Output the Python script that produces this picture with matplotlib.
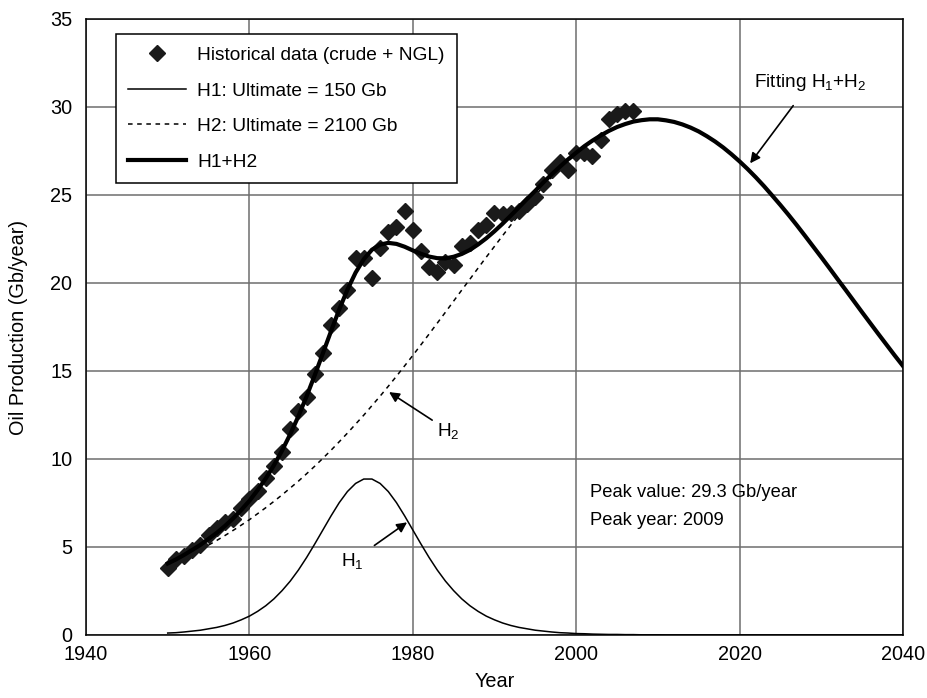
import numpy as np
import matplotlib
matplotlib.use("Agg")
import matplotlib.pyplot as plt

plt.rcParams['font.family'] = ['Liberation Sans', 'DejaVu Sans']
plt.rcParams['mathtext.fontset'] = 'custom'
plt.rcParams['mathtext.rm'] = 'Liberation Sans'
plt.rcParams['mathtext.it'] = 'Liberation Sans'
plt.rcParams['mathtext.default'] = 'rm'

# Historical data (crude + NGL), Gb/year
hist_years = list(range(1950, 2008))
hist_prod = [3.8, 4.3, 4.5, 4.8, 5.1, 5.7, 6.1, 6.4, 6.6, 7.2,
             7.7, 8.2, 8.9, 9.6, 10.4, 11.7, 12.7, 13.5, 14.8, 16.0,
             17.6, 18.6, 19.6, 21.4, 21.4, 20.3, 22.0, 22.9, 23.2, 24.1,
             23.0, 21.8, 20.9, 20.6, 21.2, 21.0, 22.1, 22.3, 23.0, 23.3,
             24.0, 23.9, 24.0, 24.1, 24.5, 24.9, 25.6, 26.4, 26.9, 26.4,
             27.4, 27.4, 27.2, 28.1, 29.3, 29.6, 29.8, 29.8]

# Fitted Hubbert curves (one value per year, 1950-2040)
fit_years = list(range(1950, 2041))
h1_vals = [0.11, 0.13, 0.17, 0.22, 0.27, 0.35, 0.43, 0.54, 0.68, 0.86,
           1.07, 1.34, 1.66, 2.05, 2.52, 3.06, 3.69, 4.40, 5.17, 5.97,
           6.77, 7.52, 8.15, 8.61, 8.86, 8.86, 8.61, 8.15, 7.52, 6.77,
           5.97, 5.17, 4.40, 3.69, 3.06, 2.52, 2.05, 1.66, 1.34, 1.07,
           0.86, 0.68, 0.54, 0.43, 0.35, 0.27, 0.22, 0.17, 0.13, 0.11,
           0.08, 0.07, 0.05, 0.04, 0.03, 0.03, 0.02, 0.02, 0.01, 0.01,
           0.01, 0.0, 0.0, 0.0, 0.0, 0.0, 0.0, 0.0, 0.0, 0.0,
           0.0, 0.0, 0.0, 0.0, 0.0, 0.0, 0.0, 0.0, 0.0, 0.0,
           0.0, 0.0, 0.0, 0.0, 0.0, 0.0, 0.0, 0.0, 0.0, 0.0,
           0.0]
h2_vals = [3.95, 4.16, 4.38, 4.61, 4.85, 5.11, 5.37, 5.65, 5.94, 6.24,
           6.55, 6.89, 7.23, 7.59, 7.96, 8.35, 8.74, 9.16, 9.59, 10.04,
           10.50, 10.98, 11.47, 11.98, 12.49, 13.03, 13.57, 14.13, 14.70, 15.29,
           15.88, 16.49, 17.10, 17.72, 18.34, 18.97, 19.60, 20.22, 20.85, 21.47,
           22.08, 22.69, 23.29, 23.87, 24.43, 24.97, 25.50, 26.00, 26.47, 26.91,
           27.32, 27.70, 28.04, 28.34, 28.61, 28.83, 29.01, 29.15, 29.24, 29.29,
           29.29, 29.24, 29.15, 29.01, 28.83, 28.61, 28.34, 28.04, 27.70, 27.32,
           26.91, 26.47, 26.00, 25.50, 24.97, 24.43, 23.87, 23.29, 22.69, 22.08,
           21.47, 20.85, 20.22, 19.60, 18.97, 18.34, 17.72, 17.10, 16.49, 15.88,
           15.29]

x_ticks = [1940, 1960, 1980, 2000, 2020, 2040]
y_ticks = [0, 5, 10, 15, 20, 25, 30, 35]

total_vals = np.array(h1_vals) + np.array(h2_vals)

FS = 14.3

fig = plt.figure(figsize=(9.27, 6.98), dpi=100)
ax = fig.add_axes([0.0928, 0.0903, 0.8812, 0.8825])

ax.plot(hist_years, hist_prod, linestyle='none', marker='D', color='#1a1a1a',
        markersize=7.8, label='Historical data (crude + NGL)', zorder=4)
ax.plot(fit_years, h1_vals, color='black', lw=1.1, label='H1: Ultimate = 150 Gb', zorder=3)
ax.plot(fit_years, h2_vals, color='black', lw=1.1, dashes=(3, 3),
        label='H2: Ultimate = 2100 Gb', zorder=3)
ax.plot(fit_years, total_vals, color='black', lw=3.0, label='H1+H2', zorder=5)

ax.set_xlim(1940, 2040)
ax.set_ylim(0, 35)
ax.set_xticks(x_ticks)
ax.set_yticks(y_ticks)
ax.tick_params(length=0, labelsize=FS)
ax.tick_params(axis='y', pad=10)
ax.tick_params(axis='x', pad=7)
ax.grid(True, color='#6e6e6e', lw=1.1)
ax.set_axisbelow(True)
for s in ax.spines.values():
    s.set_color('black')
    s.set_linewidth(1.1)

ax.set_xlabel('Year', fontsize=FS, labelpad=6)
ax.set_ylabel('Oil Production (Gb/year)', fontsize=FS, labelpad=16)

leg = ax.legend(loc='upper left', bbox_to_anchor=(0.0367, 0.9756), borderaxespad=0,
                fontsize=13.8, handlelength=3.0, labelspacing=0.95, frameon=True,
                fancybox=False, framealpha=1, edgecolor='black', borderpad=0.65,
                handletextpad=0.6)
leg.get_frame().set_linewidth(1.1)
leg.set_zorder(10)

arrow = dict(arrowstyle='-|>', color='black', lw=1.2, mutation_scale=15)
ax.annotate('Fitting H$_1$+H$_2$', xy=(2021.3, 26.8), xytext=(2028.7, 31.4),
            fontsize=13.7, ha='center', va='center', arrowprops=dict(arrow, shrinkA=9, shrinkB=0))
ax.annotate('H$_2$', xy=(1977.1, 13.8), xytext=(1983.0, 11.6),
            fontsize=13.7, ha='left', va='center', arrowprops=dict(arrow, shrinkA=2, shrinkB=0))
ax.annotate('H$_1$', xy=(1979.3, 6.4), xytext=(1972.6, 4.2),
            fontsize=13.7, ha='center', va='center', arrowprops=dict(arrow, shrinkA=7, shrinkB=0))
ax.text(2001.7, 8.1, 'Peak value: 29.3 Gb/year', fontsize=13.2, ha='left', va='center')
ax.text(2001.7, 6.5, 'Peak year: 2009', fontsize=13.2, ha='left', va='center')

fig.savefig('out.png', dpi=100)
